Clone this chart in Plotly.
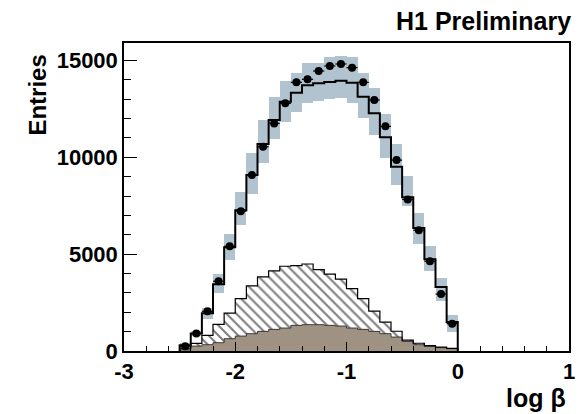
import plotly.graph_objects as go

# ---- data (log beta histogram, 25 bins of width 0.1 from -2.5 to 0) ----
bin_low = -2.5
bin_width = 0.1
data_entries = [250, 900, 2050, 3600, 5410, 7220, 9080, 10540, 11750, 12785, 13870, 14025,
                14455, 14714, 14817, 14626, 13870, 12956, 11596, 9854, 7822, 6235, 4632, 2942, 1411]
mc_total = [300, 900, 1950, 3440, 5350, 7270, 9080, 10680, 11920, 12870, 13335, 13715,
            13820, 13886, 13955, 13850, 13125, 12270, 11030, 9510, 7940, 6355, 4736, 3304, 1494]
band_lo = [200, 750, 1670, 3014, 4720, 6494, 8100, 9714, 10924, 11834, 12351, 12785,
           12920, 12992, 13044, 12785, 12010, 11146, 9942, 8561, 7476, 5547, 4131, 2580, 977]
band_hi = [400, 1050, 2218, 3996, 6064, 8215, 10200, 11922, 13096, 13954, 14367, 14853,
           14884, 15163, 15231, 15163, 14336, 13592, 12216, 10681, 9027, 7150, 5423, 3790, 1840]
hatched_top = [150, 390, 807, 1375, 1960, 2703, 3357, 3823, 4132, 4374, 4410, 4490,
               4200, 3970, 3710, 3221, 2704, 2055, 1494, 1020, 565, 400, 280, 200, 140]
brown_top = [60, 253, 325, 429, 636, 770, 894, 1013, 1117, 1184, 1323, 1360,
             1360, 1323, 1288, 1184, 1117, 1013, 894, 719, 496, 326, 240, 170, 120]

x_tick_vals = [-3, -2, -1, 0, 1]
x_tick_text = ["-3", "-2", "-1", "0", "1"]
y_tick_vals = [0, 5000, 10000, 15000]
y_tick_text = ["0", "5000", "10000", "15000"]

n = len(data_entries)
edges = [round(bin_low + bin_width * i, 3) for i in range(n + 1)]
centers = [round(bin_low + bin_width * (i + 0.5), 3) for i in range(n)]


def step_xy(vals):
    xs = [edges[0]] + edges
    ys = [0] + list(vals) + [0]
    return xs, ys


FONT = "Liberation Sans, Arial, Helvetica, sans-serif"
BAND = "#b1c3cf"
BROWN = "#9f9282"

fig = go.Figure()

# systematic band around the MC
fig.add_trace(go.Bar(x=centers, base=band_lo, y=[h - l for h, l in zip(band_hi, band_lo)],
                     width=bin_width, marker=dict(color=BAND, line=dict(width=0)),
                     hoverinfo="skip"))
# hatched component
fig.add_trace(go.Bar(x=centers, y=hatched_top, width=bin_width,
                     marker=dict(color="white", line=dict(width=0),
                                 pattern=dict(shape="\\", fgcolor="black", bgcolor="white",
                                              size=7, solidity=0.3)),
                     hoverinfo="skip"))
# brown component
fig.add_trace(go.Bar(x=centers, y=brown_top, width=bin_width,
                     marker=dict(color=BROWN, line=dict(width=0)), hoverinfo="skip"))

# outlines
xs, ys = step_xy(brown_top)
fig.add_trace(go.Scatter(x=xs, y=ys, mode="lines", line=dict(shape="hv", color="#3a3a3a", width=1)))
xs, ys = step_xy(hatched_top)
fig.add_trace(go.Scatter(x=xs, y=ys, mode="lines", line=dict(shape="hv", color="black", width=1.2)))
xs, ys = step_xy(mc_total)
fig.add_trace(go.Scatter(x=xs, y=ys, mode="lines", line=dict(shape="hv", color="black", width=2)))

# data points
fig.add_trace(go.Scatter(x=centers, y=data_entries, mode="markers",
                         marker=dict(color="black", size=8),
                         error_x=dict(type="constant", value=bin_width / 2, thickness=1.2,
                                      width=0, color="black")))

fig.update_layout(
    width=587, height=414,
    margin=dict(l=124, r=16, t=43, b=63),
    paper_bgcolor="white", plot_bgcolor="white",
    showlegend=False, barmode="overlay", bargap=0,
    font=dict(family=FONT, color="black", size=22, weight="bold"),
    xaxis=dict(range=[-3, 1], tickvals=x_tick_vals, ticktext=x_tick_text,
               ticks="inside", ticklen=9, tickwidth=1, tickcolor="black",
               minor=dict(ticks="inside", ticklen=5, dtick=0.2, tick0=-3, tickcolor="black"),
               showline=True, linecolor="black", linewidth=1.5, mirror=True,
               showgrid=False, zeroline=False,
               tickfont=dict(family=FONT, size=22, weight="bold")),
    yaxis=dict(range=[0, 15900], tickvals=y_tick_vals, ticktext=y_tick_text,
               ticks="inside", ticklen=13, tickwidth=1, tickcolor="black",
               minor=dict(ticks="inside", ticklen=7, dtick=1000, tick0=0, tickcolor="black"),
               showline=True, linecolor="black", linewidth=1.5, mirror=True,
               showgrid=False, zeroline=False,
               tickfont=dict(family=FONT, size=22, weight="bold")),
    annotations=[
        dict(text="Entries", xref="paper", yref="paper", x=-0.195, y=0.83,
             xanchor="center", yanchor="middle", textangle=-90, showarrow=False,
             font=dict(family=FONT, size=24, weight="bold")),
        dict(text="log β", xref="paper", yref="paper", x=0.998, y=-0.151,
             xanchor="right", yanchor="middle", showarrow=False,
             font=dict(family=FONT, size=25, weight="bold")),
        dict(text="H1 Preliminary", xref="paper", yref="paper", x=1.01, y=1.072,
             xanchor="right", yanchor="middle", showarrow=False,
             font=dict(family=FONT, size=25, weight="bold")),
    ],
)

fig.write_html("out.html")
